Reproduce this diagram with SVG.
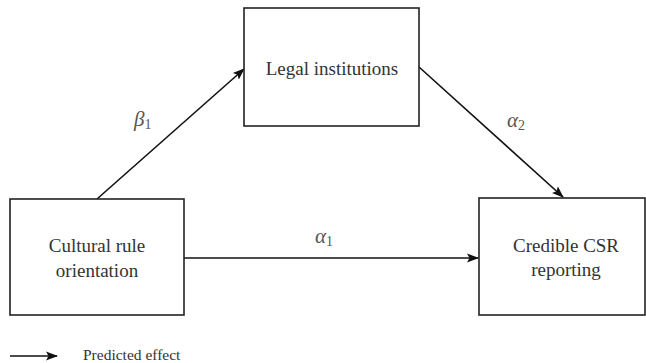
<svg xmlns="http://www.w3.org/2000/svg" width="646" height="363" viewBox="0 0 646 363">
<defs>
<marker id="arr" markerWidth="12" markerHeight="10" refX="11" refY="5" orient="auto" markerUnits="userSpaceOnUse">
<path d="M0,0.5 L12,5 L0,9.5 L2.5,5 Z" fill="#111"/>
</marker>
<style>
.box{fill:#fff;stroke:#222;stroke-width:1.6}
.lbl{font-family:"Liberation Serif","Times New Roman",serif;font-size:19px;fill:#333;text-anchor:middle}
.gr{font-family:"Liberation Serif","Times New Roman",serif;font-style:italic;font-size:21px;fill:#555}
.sub{font-size:14px;font-style:normal}
.edge{stroke:#111;stroke-width:1.6;fill:none;marker-end:url(#arr)}
</style>
</defs>
<rect width="646" height="363" fill="#fff"/>
<g id="connectors">
<line class="edge" x1="97" y1="199" x2="244" y2="69"/>
<line class="edge" x1="419" y1="67" x2="563" y2="197"/>
<line class="edge" x1="184" y1="258" x2="478" y2="258"/>
</g>
<g id="node-cultural">
<rect class="box" x="10" y="199" width="174" height="116"/>
<text class="lbl" x="97" y="252">Cultural rule</text>
<text class="lbl" x="97" y="277">orientation</text>
</g>
<g id="node-legal">
<rect class="box" x="244" y="8" width="175" height="118"/>
<text class="lbl" x="332" y="75">Legal institutions</text>
</g>
<g id="node-csr">
<rect class="box" x="479" y="198" width="166" height="117"/>
<text class="lbl" x="566" y="252">Credible CSR</text>
<text class="lbl" x="566" y="276">reporting</text>
</g>
<g id="labels">
<text class="gr" x="134" y="126">β<tspan class="sub" dy="3">1</tspan></text>
<text class="gr" x="507" y="127">α<tspan class="sub" dy="3">2</tspan></text>
<text class="gr" x="315" y="243">α<tspan class="sub" dy="3">1</tspan></text>
</g>
<g id="legend">
<line class="edge" x1="10" y1="356" x2="57" y2="356"/>
<text class="lbl" x="83" y="360" style="text-anchor:start;font-size:15.5px">Predicted effect</text>
</g>
</svg>
